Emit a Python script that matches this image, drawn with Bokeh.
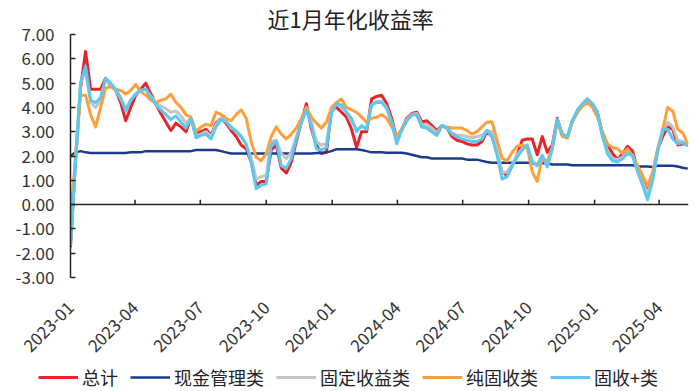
import math
import pandas as pd
from bokeh.plotting import figure
from bokeh.models import (DatetimeAxis, FixedTicker, DatetimeTickFormatter, NumeralTickFormatter,
                          Legend, LegendItem, Range1d, Span)
from bokeh.embed import file_html
from bokeh.resources import INLINE

# ---------------- data (weekly) ----------------
dates = pd.date_range("2023-01-01", periods=124, freq="7D")

total = [-1.75, 1.8, 4.8, 6.3, 4.75, 4.75, 4.75, 5.2, 4.9, 4.7,
         4.2, 3.45, 4.0, 4.5, 4.75, 5.0, 4.55, 4.15, 3.75, 3.4,
         3.05, 3.35, 3.2, 3.0, 3.55, 2.9, 3.0, 3.1, 2.85, 3.35,
         3.55, 3.35, 3.05, 2.8, 2.45, 2.3, 1.75, 0.8, 0.95, 0.95,
         2.25, 2.45, 1.5, 1.3, 1.75, 2.6, 3.4, 4.15, 3.1, 2.45,
         2.1, 2.15, 3.9, 4.0, 3.8, 3.6, 3.1, 2.35, 3.0, 3.0,
         4.35, 4.45, 4.5, 4.15, 3.55, 2.7, 3.1, 3.55, 3.75, 3.8,
         3.4, 3.45, 3.25, 3.05, 3.25, 3.15, 2.8, 2.65, 2.6, 2.5,
         2.45, 2.45, 2.6, 3.0, 2.8, 2.1, 1.35, 1.2, 1.6, 2.05,
         2.65, 2.7, 2.7, 2.05, 2.8, 2.15, 2.45, 3.55, 2.85, 2.75,
         3.45, 3.8, 4.1, 4.3, 4.15, 3.8, 2.9, 2.45, 2.1, 1.85,
         2.1, 2.4, 2.2, 1.45, 1.1, 0.7, 1.15, 2.25, 2.8, 3.2,
         3.1, 2.45, 2.5, 2.45]

cash = [2.0, 2.15, 2.2, 2.15, 2.12, 2.12, 2.12, 2.12, 2.12, 2.12,
        2.12, 2.12, 2.15, 2.15, 2.15, 2.2, 2.2, 2.2, 2.2, 2.2,
        2.2, 2.2, 2.2, 2.2, 2.2, 2.25, 2.25, 2.25, 2.25, 2.25,
        2.2, 2.15, 2.1, 2.1, 2.1, 2.1, 2.1, 2.1, 2.1, 2.1,
        2.1, 2.1, 2.1, 2.1, 2.1, 2.1, 2.1, 2.1, 2.1, 2.12,
        2.12, 2.15, 2.2, 2.28, 2.28, 2.28, 2.28, 2.28, 2.25, 2.2,
        2.15, 2.15, 2.15, 2.13, 2.13, 2.13, 2.13, 2.1, 2.05, 2.0,
        1.95, 1.95, 1.9, 1.9, 1.9, 1.9, 1.9, 1.9, 1.9, 1.85,
        1.85, 1.85, 1.8, 1.75, 1.72, 1.72, 1.72, 1.72, 1.72, 1.72,
        1.72, 1.72, 1.7, 1.7, 1.7, 1.7, 1.65, 1.65, 1.65, 1.65,
        1.62, 1.62, 1.62, 1.62, 1.62, 1.62, 1.62, 1.62, 1.62, 1.62,
        1.62, 1.62, 1.62, 1.57, 1.57, 1.57, 1.55, 1.6, 1.6, 1.6,
        1.6, 1.57, 1.52, 1.48]

fixed_income = [-1.5, 1.9, 5.0, 5.5, 4.2, 4.0, 4.3, 5.15, 4.95, 4.7,
                4.35, 3.95, 4.3, 4.55, 4.7, 4.75, 4.45, 4.2, 4.05, 3.95,
                3.8, 3.85, 3.65, 3.35, 3.55, 2.85, 2.9, 3.0, 2.8, 3.3,
                3.55, 3.45, 3.15, 3.05, 2.85, 2.45, 1.95, 1.05, 1.15, 1.2,
                2.6, 2.65, 2.1, 1.9, 2.15, 2.8, 3.45, 3.95, 3.4, 2.6,
                2.45, 2.5, 3.95, 4.15, 4.0, 3.8, 3.4, 3.1, 3.2, 3.15,
                4.1, 4.25, 4.25, 4.0, 3.4, 2.65, 3.1, 3.5, 3.72, 3.75,
                3.3, 3.3, 3.15, 2.95, 3.25, 3.15, 2.95, 2.85, 2.85, 2.8,
                2.75, 2.8, 2.85, 3.05, 3.0, 2.25, 1.3, 1.35, 1.65, 2.05,
                2.3, 2.45, 1.8, 1.65, 2.05, 1.6, 2.3, 3.5, 2.9, 2.8,
                3.45, 3.85, 4.15, 4.35, 4.15, 3.75, 2.85, 2.2, 1.9, 1.85,
                1.95, 2.15, 2.05, 1.4, 0.9, 0.4, 1.05, 2.2, 3.0, 3.4,
                3.2, 2.65, 2.6, 2.45]

pure_fixed = [-0.7, 2.0, 4.5, 4.5, 3.7, 3.2, 4.0, 4.8, 4.85, 4.75,
              4.7, 4.55, 4.7, 4.95, 4.65, 4.5, 4.3, 4.2, 4.3, 4.35,
              4.55, 4.2, 4.0, 3.7, 3.6, 3.0, 3.2, 3.3, 3.25, 3.8,
              3.7, 3.55, 3.45, 3.7, 3.9, 3.55, 2.6, 1.95, 1.8, 2.1,
              2.8, 3.2, 2.9, 2.7, 2.9, 3.15, 3.55, 4.0, 3.6, 3.35,
              3.15, 3.4, 4.0, 4.2, 4.35, 4.0, 3.9, 3.8, 3.6, 3.4,
              3.55, 3.6, 3.7, 3.55, 3.2, 2.8, 3.1, 3.45, 3.7, 3.7,
              3.2, 3.15, 3.0, 2.85, 3.25, 3.2, 3.15, 3.15, 3.15, 3.05,
              2.9, 3.0, 3.2, 3.4, 3.4, 2.65, 1.9, 1.8, 2.15, 2.4,
              2.45, 2.35, 1.35, 0.95, 1.95, 1.75, 2.35, 3.4, 2.8, 2.75,
              3.4, 3.8, 4.05, 4.2, 4.0, 3.6, 3.0, 2.5, 2.35, 2.3,
              2.1, 2.3, 2.0, 1.6, 1.2, 0.75, 1.35, 2.3, 3.1, 4.0,
              3.85, 3.1, 2.95, 2.5]

fixed_plus = [-1.7, 1.7, 5.0, 5.7, 4.3, 4.2, 4.4, 5.2, 5.0, 4.75,
              4.4, 3.85, 4.3, 4.55, 4.7, 4.75, 4.4, 4.1, 3.9, 3.7,
              3.5, 3.65, 3.4, 3.15, 3.55, 2.75, 2.85, 2.9, 2.7, 3.2,
              3.5, 3.4, 3.2, 3.0, 2.8, 2.5, 1.75, 0.65, 0.8, 0.85,
              2.45, 2.6, 1.6, 1.5, 1.9, 2.7, 3.35, 3.9, 3.25, 2.3,
              2.25, 2.35, 3.75, 4.15, 4.1, 3.8, 3.55, 3.0, 3.25, 3.1,
              4.1, 4.2, 4.2, 3.95, 3.4, 2.5, 3.05, 3.45, 3.7, 3.7,
              3.2, 3.15, 3.0, 2.85, 3.25, 3.15, 2.9, 2.8, 2.7, 2.65,
              2.6, 2.6, 2.7, 3.05, 2.8, 2.05, 1.05, 1.15, 1.6, 1.95,
              2.25, 2.45, 1.75, 1.6, 2.0, 1.55, 2.3, 3.5, 2.9, 2.8,
              3.45, 3.9, 4.15, 4.35, 4.15, 3.75, 2.8, 2.1, 1.8, 1.75,
              1.9, 2.1, 2.0, 1.35, 0.8, 0.2, 1.0, 2.2, 3.1, 3.1,
              2.7, 2.5, 2.55, 2.4]

series_names = ["总计", "现金管理类", "固定收益类", "纯固收类", "固收+类"]
series_values = [total, cash, fixed_income, pure_fixed, fixed_plus]
series_colors = ["#E5252A", "#1B3A8C", "#C4C4C4", "#FF9F3B", "#5CC8F2"]

tick_labels = ["2023-01", "2023-04", "2023-07", "2023-10", "2024-01",
               "2024-04", "2024-07", "2024-10", "2025-01", "2025-04"]
y_ticks = [-3, -2, -1, 0, 1, 2, 3, 4, 5, 6, 7]

FONT = "Noto Sans CJK SC"
AXIS_COLOR = "#222222"

def ms(ts):
    return pd.Timestamp(ts).value // 10**6

x_start = pd.Timestamp("2023-01-01")
x_end = x_start + pd.Timedelta(days=862)
x_ticks = [ms(t + "-01") for t in tick_labels]

MAIN_H = 365
LEG_H = 26

p = figure(width=696, height=MAIN_H, x_axis_type=None, y_axis_type="linear",
           output_backend="svg", toolbar_location=None,
           x_range=Range1d(x_start, x_end), y_range=Range1d(-3, 7),
           min_border_left=70, min_border_right=8, min_border_top=34,
           min_border_bottom=88)
p.outline_line_color = None
p.background_fill_color = "white"
p.border_fill_color = "white"
p.xgrid.visible = False
p.ygrid.visible = False

# title
p.title.text = "近1月年化收益率"
p.title.text_font = FONT
p.title.text_font_size = "22px"
p.title.text_font_style = "normal"
p.title.text_color = "#222222"
p.title.align = "left"
p.title.offset = 197
p.title.standoff = 0
p.title.vertical_align = "middle"

# y axis
ya = p.yaxis[0]
ya.ticker = FixedTicker(ticks=y_ticks)
ya.formatter = NumeralTickFormatter(format="0.00")
ya.major_label_text_font = FONT
ya.major_label_text_font_size = "17px"
ya.major_label_text_color = "#333333"
ya.axis_line_color = AXIS_COLOR
ya.axis_line_width = 1.5
ya.major_tick_line_color = AXIS_COLOR
ya.major_tick_line_width = 1.5
ya.major_tick_in = 5
ya.major_tick_out = 0
ya.minor_tick_line_color = None
ya.major_label_standoff = 16

# bottom axis: labels only
fmt = DatetimeTickFormatter(days="%Y-%m", months="%Y-%m", years="%Y-%m",
                            hours="%Y-%m", minutes="%Y-%m", seconds="%Y-%m")
xa = DatetimeAxis(ticker=FixedTicker(ticks=x_ticks), formatter=fmt)
xa.axis_line_color = None
xa.major_tick_line_color = None
xa.minor_tick_line_color = None
xa.major_label_orientation = math.pi / 4
xa.major_label_text_font = FONT
xa.major_label_text_font_size = "17px"
xa.major_label_text_color = "#333333"
xa.major_label_standoff = 21
p.add_layout(xa, "below")

# zero line with upward ticks at the quarter starts
p.add_layout(Span(location=0, dimension="width", line_color=AXIS_COLOR, line_width=1.5))
p.segment(x0=x_ticks, y0=[0] * len(x_ticks), x1=x_ticks, y1=[0.2] * len(x_ticks),
          line_color=AXIS_COLOR, line_width=1.5)

for name, vals, col in zip(series_names, series_values, series_colors):
    lw = 2.5 if name == "现金管理类" else 3
    p.line(dates, vals, line_color=col, line_width=lw, line_join="round")

# legend strip (own small figure below the chart)
leg = figure(width=696, height=LEG_H, output_backend="svg", toolbar_location=None,
             x_range=Range1d(0, 1), y_range=Range1d(0, 1),
             min_border=0, x_axis_type=None, y_axis_type=None)
leg.outline_line_color = None
leg.xgrid.visible = False
leg.ygrid.visible = False
items = []
for name, col in zip(series_names, series_colors):
    lw = 2.5 if name == "现金管理类" else 3
    # single off-screen point: the renderer only supplies the legend swatch
    r = leg.line(x=[-5], y=[-5], line_color=col, line_width=lw)
    items.append(LegendItem(label=name, renderers=[r]))
legend = Legend(items=items, orientation="horizontal", location=(38, 1))
legend.label_text_font = FONT
legend.label_text_font_size = "18px"
legend.label_text_color = "#222222"
legend.glyph_width = 40
legend.glyph_height = 18
legend.label_standoff = 4
legend.spacing = 12
legend.padding = 0
legend.margin = 0
legend.border_line_color = None
legend.background_fill_alpha = 0
leg.add_layout(legend)

open("out.html", "w").write(file_html([p, leg], INLINE))
